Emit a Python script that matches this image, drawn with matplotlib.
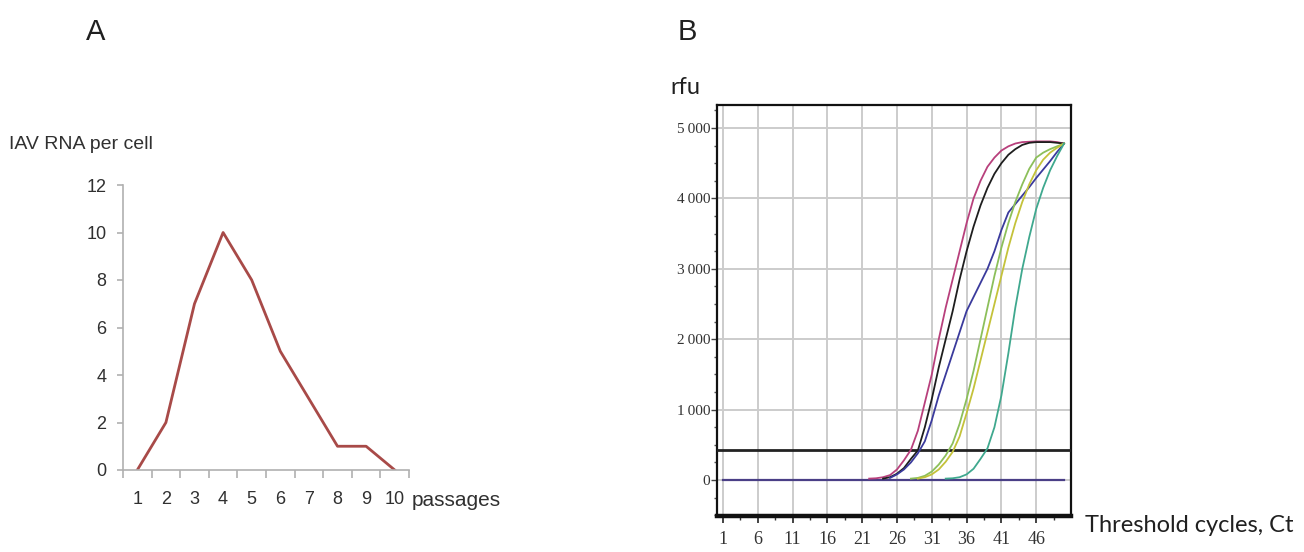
import matplotlib
matplotlib.use("Agg")
import matplotlib.pyplot as plt
from matplotlib.ticker import MultipleLocator, FixedLocator, FuncFormatter

# ---------------- Panel A data ----------------
passages = [1, 2, 3, 4, 5, 6, 7, 8, 9, 10]
rna_per_cell = [0, 2, 7, 10, 8, 5, 3, 1, 1, 0]
a_yticks = [0, 2, 4, 6, 8, 10, 12]

# ---------------- Panel B data ----------------
pink_x = [22, 23, 24, 25, 26, 27, 28, 29, 30, 31, 32, 33, 34, 35, 36, 37, 38, 39, 40, 41, 42, 43, 44, 46, 48, 49, 50]
pink_y = [20, 25, 40, 70, 150, 280, 430, 700, 1100, 1500, 2000, 2450, 2850, 3250, 3650, 4000, 4250, 4450, 4580, 4680, 4740, 4780, 4800, 4810, 4810, 4800, 4780]

black_x = [24, 25, 26, 27, 28, 29, 30, 31, 32, 33, 34, 35, 36, 37, 38, 39, 40, 41, 42, 43, 44, 45, 46, 48, 49, 50]
black_y = [20, 40, 90, 170, 300, 420, 750, 1150, 1600, 2000, 2400, 2850, 3250, 3600, 3900, 4150, 4350, 4500, 4620, 4700, 4760, 4790, 4800, 4800, 4790, 4780]

blue_x = [25, 26, 27, 28, 29, 30, 31, 32, 33, 34, 35, 36, 37, 38, 39, 40, 41, 42, 43, 44, 45, 46, 47, 48, 49, 50]
blue_y = [30, 80, 150, 250, 380, 550, 850, 1200, 1500, 1800, 2100, 2400, 2600, 2800, 3000, 3250, 3550, 3800, 3920, 4040, 4160, 4290, 4410, 4530, 4660, 4780]

green_x = [28, 29, 30, 31, 32, 33, 34, 35, 36, 37, 38, 39, 40, 41, 42, 43, 44, 45, 46, 47, 48, 49, 50]
green_y = [20, 30, 60, 120, 220, 350, 520, 800, 1150, 1550, 2000, 2450, 2900, 3300, 3650, 3950, 4200, 4420, 4580, 4650, 4700, 4740, 4780]

yellow_x = [29, 30, 31, 32, 33, 34, 35, 36, 37, 38, 39, 40, 41, 42, 43, 44, 45, 46, 47, 48, 49, 50]
yellow_y = [20, 40, 80, 150, 260, 400, 620, 950, 1300, 1700, 2100, 2500, 2900, 3300, 3650, 3950, 4200, 4400, 4550, 4650, 4720, 4780]

teal_x = [33, 34, 35, 36, 37, 38, 39, 40, 41, 42, 43, 44, 45, 46, 47, 48, 49, 50]
teal_y = [20, 25, 40, 80, 160, 300, 450, 750, 1200, 1800, 2450, 3000, 3450, 3850, 4150, 4400, 4600, 4780]

baseline_x = [1, 50]
baseline_y = [0, 0]
threshold = 420

b_xticks = [1, 6, 11, 16, 21, 26, 31, 36, 41, 46]
b_yticks = [0, 1000, 2000, 3000, 4000, 5000]

# ---------------- Figure ----------------
fig = plt.figure(figsize=(13.04, 5.52), dpi=100)

narrow = ['Liberation Sans', 'DejaVu Sans']

# Panel A
axA = fig.add_axes([123/1304, (552-470)/552, 286/1304, 285/552])
axA.plot(passages, rna_per_cell, color='#a84a48', lw=2.0)
axA.set_xlim(0.5, 10.5)
axA.set_ylim(0, 12)
for s in ['top', 'right']:
    axA.spines[s].set_visible(False)
for s in ['left', 'bottom']:
    axA.spines[s].set_color('#b0b0b0')
    axA.spines[s].set_linewidth(1.2)
axA.set_yticks(a_yticks)
axA.xaxis.set_major_locator(FixedLocator([p - 0.5 for p in passages] + [10.5]))
axA.xaxis.set_major_formatter(FuncFormatter(lambda v, p: ''))
axA.xaxis.set_minor_locator(FixedLocator(passages))
axA.xaxis.set_minor_formatter(FuncFormatter(lambda v, p: '%d' % round(v)))
axA.tick_params(axis='x', which='major', length=6, color='#b0b0b0', width=1.2, direction='out')
axA.tick_params(axis='x', which='minor', length=0, pad=15, labelsize=13, labelcolor='#303030')
axA.tick_params(axis='y', length=4, color='#b0b0b0', width=1.2, labelsize=13, labelcolor='#303030', pad=8)
for lab in axA.get_xticklabels(minor=True) + axA.get_yticklabels():
    lab.set_family(narrow)
fig.text(412/1304, 1 - 500/552, 'passages', fontsize=15, family=narrow, color='#303030', va='center', ha='left')
fig.text(9/1304, 1 - 145/552, 'IAV RNA per cell', fontsize=14, family=narrow, color='#303030', va='center', ha='left')
fig.text(96/1304, 1 - 32/552, 'A', fontsize=21, family=narrow, color='#202020', va='center', ha='center')

# Panel B
axB = fig.add_axes([717/1304, (552-516)/552, 354/1304, 411/552])
axB.set_xlim(0.14, 51.0)
axB.set_ylim(-511, 5327)
axB.set_xticks(b_xticks)
axB.set_yticks(b_yticks)
axB.yaxis.set_minor_locator(MultipleLocator(250))
axB.set_xticks([x + 2.5 for x in b_xticks], minor=True)
axB.grid(True, which='major', color='#cccccc', lw=1.4)
axB.set_axisbelow(True)
axB.axhline(threshold, color='#222222', lw=2.0, zorder=3)
axB.plot(baseline_x, baseline_y, color='#4a3f86', lw=1.6, zorder=3)
curves = [
    (pink_x, pink_y, '#b8407c'),
    (black_x, black_y, '#1e1e1e'),
    (blue_x, blue_y, '#3a3a9c'),
    (green_x, green_y, '#8cbf5a'),
    (yellow_x, yellow_y, '#c4c23a'),
    (teal_x, teal_y, '#3fa88e'),
]
for cx, cy, col in curves:
    axB.plot(cx, cy, color=col, lw=1.3, zorder=4)
for s in ['top', 'right', 'left']:
    axB.spines[s].set_linewidth(1.6)
    axB.spines[s].set_color('#111111')
axB.spines['bottom'].set_linewidth(3.2)
axB.spines['bottom'].set_color('#111111')
axB.yaxis.set_major_formatter(FuncFormatter(lambda v, p: ('%d' % v) if v < 1000 else ('%d\u2009000' % (v // 1000))))
axB.tick_params(axis='y', which='major', length=4, width=1, color='#444444', labelsize=11, labelcolor='#333333', pad=1)
axB.tick_params(axis='y', which='minor', length=2, width=1, color='#555555')
axB.tick_params(axis='x', which='major', length=5, width=1.2, color='#222222', labelsize=13, labelcolor='#333333', pad=6)
axB.tick_params(axis='x', which='minor', length=3, width=1, color='#333333')
for lab in axB.get_xticklabels() + axB.get_yticklabels():
    lab.set_family(['Liberation Serif', 'DejaVu Serif'])
sans_b = ['Lato', 'DejaVu Sans']
fig.text(670/1304, 1 - 88/552, 'rfu', fontsize=17, family=sans_b, color='#202020', va='center', ha='left')
fig.text(1085/1304, 1 - 525/552, 'Threshold cycles, Ct', fontsize=17, family=sans_b, color='#202020', va='center', ha='left')
fig.text(687/1304, 1 - 32/552, 'B', fontsize=21, family=narrow, color='#202020', va='center', ha='center')

fig.savefig('out.png', dpi=100, facecolor='white')
